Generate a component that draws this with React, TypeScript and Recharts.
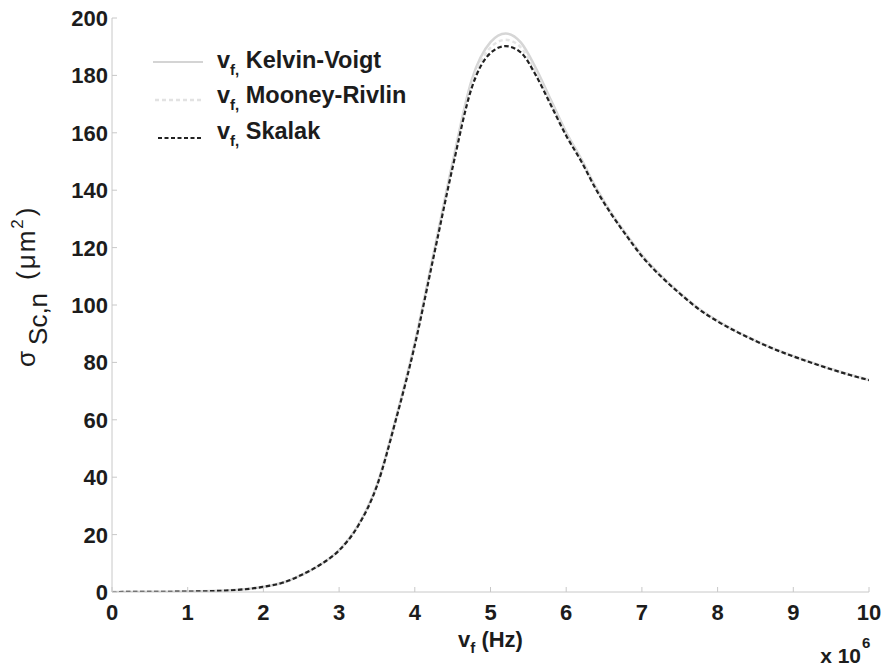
import React from 'react';
import { LineChart, Line, XAxis, YAxis, Legend } from 'recharts';

const freq = [0, 0.5, 1, 1.5, 2, 2.25, 2.5, 2.75, 3, 3.25, 3.5, 3.75, 4, 4.25, 4.5, 4.75, 5, 5.2, 5.4, 5.6, 5.8, 6, 6.2, 6.4, 6.6, 6.8, 7, 7.25, 7.5, 7.75, 8, 8.25, 8.5, 8.75, 9, 9.25, 9.5, 9.75, 10];
const kelvinVoigt = [0, 0.05, 0.15, 0.5, 1.8, 3.2, 5.9, 9.5, 14.6, 23.2, 37.3, 60.5, 86.8, 118.2, 149.8, 178.3, 191.6, 194.6, 191.5, 182.5, 171.3, 160.2, 150.8, 140.6, 131.9, 124.4, 117.4, 110.3, 104.2, 98.8, 94.5, 90.8, 87.6, 84.7, 82.2, 79.9, 77.7, 75.7, 73.9];
const mooneyRivlin = [0, 0.05, 0.15, 0.5, 1.8, 3.2, 5.9, 9.5, 14.5, 23.1, 37.1, 60.2, 86.4, 117.6, 148.9, 176.9, 189.7, 192.4, 189.8, 181.2, 170.4, 159.6, 150.4, 140.3, 131.7, 124.2, 117.1, 110.1, 104.1, 98.7, 94.4, 90.8, 87.6, 84.7, 82.2, 79.9, 77.7, 75.7, 73.9];
const skalak = [0, 0.05, 0.15, 0.5, 1.8, 3.2, 5.9, 9.5, 14.5, 23, 37, 60, 86, 117, 148, 175.5, 187.8, 190.2, 188, 180, 169.5, 159, 150, 140, 131.5, 124, 117, 110, 104, 98.6, 94.3, 90.7, 87.5, 84.6, 82.1, 79.8, 77.6, 75.6, 73.8];

const xTicks = [0, 1, 2, 3, 4, 5, 6, 7, 8, 9, 10];
const yTicks = [0, 20, 40, 60, 80, 100, 120, 140, 160, 180, 200];
const seriesNames = ['Kelvin-Voigt', 'Mooney-Rivlin', 'Skalak'];

const data = freq.map((f, i) => ({ f, kv: kelvinVoigt[i], mr: mooneyRivlin[i], sk: skalak[i] }));

const FONT = '"Liberation Sans", Arial, Helvetica, sans-serif';
const TXT = '#1c1c1c';
const FRAME = '#c8c8c8';

const XTick = (props: any) => {
  const { x, y, payload } = props;
  return (
    <g>
      <line x1={x} x2={x} y1={y} y2={y - 5} stroke={FRAME} />
      <text x={x} y={y + 28} textAnchor="middle" fontFamily={FONT} fontWeight="bold" fontSize={22} fill={TXT}>
        {payload.value}
      </text>
    </g>
  );
};

const YTick = (props: any) => {
  const { x, y, payload } = props;
  return (
    <g>
      <line x1={x} x2={x + 5} y1={y} y2={y} stroke={FRAME} />
      <text x={x - 4} y={y + 8} textAnchor="end" fontFamily={FONT} fontWeight="bold" fontSize={22} fill={TXT}>
        {payload.value}
      </text>
    </g>
  );
};

const TopTick = (props: any) => {
  const { x, y } = props;
  return <line x1={x} x2={x} y1={y} y2={y + 5} stroke={FRAME} />;
};

const RightTick = (props: any) => {
  const { x, y } = props;
  return <line x1={x} x2={x - 5} y1={y} y2={y} stroke={FRAME} />;
};

const YLabel = (props: any) => {
  const vb = props.viewBox || { x: 0, y: 18, width: 112, height: 574 };
  const px = vb.x + 35;
  const py = vb.y + vb.height / 2 + 62;
  return (
    <text
      x={px}
      y={py}
      transform={`rotate(-90 ${px} ${py})`}
      textAnchor="start"
      fontFamily={FONT}
      fontSize={26}
      fill={TXT}
    >
      σ
      <tspan dy={12} dx={6}>Sc,n</tspan>
      <tspan dy={-12} dx={13} letterSpacing={2}>(μm</tspan>
      <tspan dy={-12} fontSize={17}>2</tspan>
      <tspan dy={12} dx={3}>)</tspan>
    </text>
  );
};

const XLabel = (props: any) => {
  const vb = props.viewBox || { x: 112, y: 592, width: 757, height: 30 };
  const cx = vb.x + vb.width / 2;
  const by = vb.y + 55;
  const rx = vb.x + vb.width;
  return (
    <g fontFamily={FONT} fontWeight="bold" fill={TXT}>
      <text x={cx} y={by} textAnchor="middle" fontSize={22}>
        v<tspan dy={6} fontSize={15}>f</tspan>
        <tspan dy={-6}> (Hz)</tspan>
      </text>
      <text x={rx - 8} y={by + 16} textAnchor="end" fontSize={21}>
        x 10
      </text>
      <text x={rx - 7} y={by + 1} textAnchor="start" fontSize={15}>
        6
      </text>
    </g>
  );
};

const legendStyles = [
  { stroke: '#d4d4d4', dash: undefined as string | undefined, width: 2, x1: 3 },
  { stroke: '#e2e2e2', dash: '4 3', width: 2.5, x1: 5 },
  { stroke: '#222222', dash: '4 2.5', width: 2, x1: 8 },
];

const LegendContent = () => {
  const lineYs = [22, 60, 98];
  const baseYs = [28, 63, 99];
  return (
    <svg width={340} height={120} style={{ overflow: 'visible' }}>
      {seriesNames.map((name, i) => (
        <g key={name}>
          <line
            x1={legendStyles[i].x1}
            x2={53}
            y1={lineYs[i]}
            y2={lineYs[i]}
            stroke={legendStyles[i].stroke}
            strokeWidth={legendStyles[i].width}
            strokeDasharray={legendStyles[i].dash}
          />
          <text x={67} y={baseYs[i]} fontFamily={FONT} fontWeight="bold" fontSize={23.5} fill={TXT}>
            v<tspan dy={7} fontSize={15}>f,</tspan>
            <tspan dy={-7}> {name}</tspan>
          </text>
        </g>
      ))}
    </svg>
  );
};

export default function App() {
  return (
    <div style={{ position: 'absolute', left: 0, top: 0, width: 888, height: 668, background: '#fff' }}>
      <LineChart
        width={888}
        height={668}
        data={data}
        margin={{ top: 18, right: 19, bottom: 46, left: 0 }}
        style={{ background: '#fff' }}
      >
        <XAxis
          dataKey="f"
          type="number"
          domain={[0, 10]}
          ticks={xTicks}
          height={30}
          tickSize={0}
          tickMargin={0}
          tickLine={false}
          axisLine={{ stroke: FRAME }}
          tick={<XTick />}
          interval={0}
          allowDataOverflow
          label={<XLabel />}
        />
        <XAxis
          xAxisId="top"
          orientation="top"
          dataKey="f"
          type="number"
          domain={[0, 10]}
          ticks={xTicks}
          height={0}
          tickSize={0}
          tickMargin={0}
          tickLine={false}
          axisLine={{ stroke: FRAME }}
          tick={<TopTick />}
          interval={0}
        />
        <YAxis
          type="number"
          domain={[0, 200]}
          ticks={yTicks}
          width={112}
          tickSize={0}
          tickMargin={0}
          tickLine={false}
          axisLine={{ stroke: FRAME }}
          tick={<YTick />}
          interval={0}
          allowDataOverflow
          label={<YLabel />}
        />
        <YAxis
          yAxisId="right"
          orientation="right"
          type="number"
          domain={[0, 200]}
          ticks={yTicks}
          width={0}
          tickSize={0}
          tickMargin={0}
          tickLine={false}
          axisLine={{ stroke: FRAME }}
          tick={<RightTick />}
          interval={0}
        />
        <Legend
          layout="vertical"
          align="center"
          verticalAlign="middle"
          content={<LegendContent />}
          wrapperStyle={{ position: 'absolute', left: 150, top: 40, width: 340, height: 120 }}
        />
        <Line
          type="monotone"
          dataKey="kv"
          name={seriesNames[0]}
          stroke="#d6d6d6"
          strokeWidth={2.5}
          dot={false}
          isAnimationActive={false}
        />
        <Line
          type="monotone"
          dataKey="mr"
          name={seriesNames[1]}
          stroke="#e4e4e4"
          strokeWidth={2.5}
          strokeDasharray="4 3"
          dot={false}
          isAnimationActive={false}
        />
        <Line
          type="monotone"
          dataKey="sk"
          name={seriesNames[2]}
          stroke="#222222"
          strokeWidth={2.2}
          strokeDasharray="4.5 2.5"
          dot={false}
          isAnimationActive={false}
        />
      </LineChart>
    </div>
  );
}
